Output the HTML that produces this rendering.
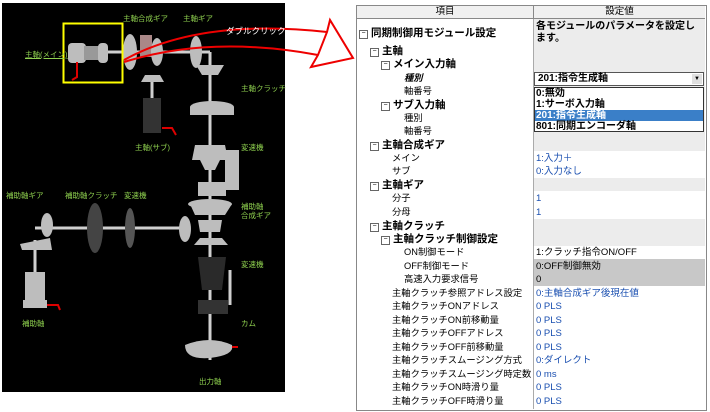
<!DOCTYPE html>
<html><head><meta charset="utf-8"><style>
body{margin:0;width:710px;height:412px;background:#fff;position:relative;overflow:hidden;font-family:"Liberation Sans","Noto Sans CJK JP",sans-serif}
.t{position:absolute;white-space:nowrap;line-height:13px}
.g{position:absolute;color:#8fd14f;font-size:7.5px;white-space:nowrap;line-height:9px}
.l{font-size:9.3px;color:#000}
.b{font-weight:bold;font-size:10.5px}
.v{font-size:9.5px;color:#1a4fb0}
.bx{display:inline-block;width:7px;height:7px;border:1px solid #666;font-size:7px;line-height:6px;text-align:center;font-weight:normal;vertical-align:1px;margin-right:3px}
</style></head><body>
<div style="position:absolute;left:2px;top:3px;width:283px;height:389px;background:#000"></div>
<svg style="position:absolute;left:0;top:0" width="710" height="412">
<g stroke="#cfcfcf" stroke-width="3" fill="none">
<line x1="100" y1="52" x2="210" y2="52"/>
<line x1="210" y1="52" x2="210" y2="360"/>
<line x1="152" y1="75" x2="152" y2="125"/>
<line x1="35" y1="228" x2="190" y2="228"/>
<line x1="35" y1="240" x2="35" y2="300"/>
<line x1="230" y1="150" x2="230" y2="190"/>
<line x1="230" y1="270" x2="230" y2="305"/>
</g>
<g fill="#bdbdbd">
<rect x="68" y="43" width="18" height="20" rx="4"/><rect x="84" y="46" width="16" height="14" fill="#999"/><rect x="98" y="43" width="10" height="20" rx="4"/>
<ellipse cx="130" cy="52" rx="7" ry="18"/><rect x="140" y="35" width="12" height="22" fill="#a88"/><ellipse cx="157" cy="52" rx="6" ry="14"/>
<ellipse cx="196" cy="52" rx="6" ry="16"/><polygon points="196,65 224,65 218,75 202,75"/>
<polygon points="145,75 160,75 164,82 141,82"/>
<rect x="143" y="98" width="18" height="35" fill="#333"/>
<ellipse cx="212" cy="107" rx="22" ry="6"/><rect x="190" y="107" width="44" height="8"/>
<polygon points="195,145 225,145 228,160 192,160"/><polygon points="200,160 220,160 215,170 205,170"/>
<rect x="225" y="150" width="14" height="40"/>
<rect x="198" y="182" width="28" height="14"/>
<ellipse cx="210" cy="204" rx="22" ry="5"/><polygon points="190,204 232,204 225,215 195,215"/>
<polygon points="198,220 222,220 220,232 200,232"/><polygon points="200,238 222,238 228,245 194,245"/>
<ellipse cx="47" cy="225" rx="6" ry="12"/><polygon points="20,244 50,238 52,250 22,250"/>
<rect x="25" y="272" width="20" height="34"/><rect x="23" y="300" width="24" height="8"/>
<ellipse cx="95" cy="228" rx="8" ry="25" fill="#444"/>
<ellipse cx="130" cy="228" rx="5" ry="20" fill="#555"/>
<ellipse cx="185" cy="229" rx="6" ry="13"/>
<polygon points="198,257 226,257 222,290 202,290" fill="#2a2a2a"/>
<rect x="198" y="300" width="30" height="14" fill="#333"/>
<path d="M185,345 Q210,335 232,345 Q235,355 210,358 Q185,360 185,345Z"/>
</g>
<g stroke="#d00" stroke-width="2" fill="none">
<path d="M77,62 L77,77 L72,80"/><path d="M162,128 L172,128 L176,135"/><path d="M47,305 L58,305 L60,310"/><path d="M232,347 L238,347"/>
</g>
<rect x="63.5" y="23.5" width="59" height="59" fill="none" stroke="#ff0" stroke-width="2"/>
<g stroke="#e00" stroke-width="2" fill="none">
<path d="M124,60 Q200,18 327,32"/><path d="M124,62 Q210,35 318,55"/>
</g>
<polygon points="327,32 330,20 353,58 311,67 318,55" fill="#fff" stroke="#e00" stroke-width="2"/>
</svg>
<div class="g" style="left:25px;top:50px;text-decoration:underline">主軸(メイン)</div>
<div class="g" style="left:123px;top:14px">主軸合成ギア</div>
<div class="g" style="left:183px;top:14px">主軸ギア</div>
<div class="g" style="left:226px;top:27px;color:#fff;font-size:8.5px">ダブルクリック</div>
<div class="g" style="left:241px;top:84px">主軸クラッチ</div>
<div class="g" style="left:135px;top:143px">主軸(サブ)</div>
<div class="g" style="left:241px;top:143px">変速機</div>
<div class="g" style="left:6px;top:191px">補助軸ギア</div>
<div class="g" style="left:65px;top:191px">補助軸クラッチ</div>
<div class="g" style="left:124px;top:191px">変速機</div>
<div class="g" style="left:241px;top:202px">補助軸<br>合成ギア</div>
<div class="g" style="left:241px;top:260px">変速機</div>
<div class="g" style="left:22px;top:319px">補助軸</div>
<div class="g" style="left:241px;top:319px">カム</div>
<div class="g" style="left:199px;top:377px">出力軸</div>

<div style="position:absolute;left:356px;top:5px;width:349px;height:404px;border:1px solid #888;background:#fff"></div>
<div style="position:absolute;left:357px;top:6px;width:176px;height:12px;background:#f0f0f0;border-bottom:1px solid #888;border-right:1px solid #888;font-size:9.5px;text-align:center;line-height:12px">項目</div>
<div style="position:absolute;left:534px;top:6px;width:171px;height:12px;background:#f0f0f0;border-bottom:1px solid #888;font-size:9.5px;text-align:center;line-height:12px">設定値</div>
<div style="position:absolute;left:533px;top:19px;width:1px;height:390px;background:#aaa"></div>
<div style="position:absolute;left:534px;top:19px;width:171px;height:119px;background:#ececec"></div>
<div style="position:absolute;left:534px;top:138px;width:171px;height:13px;background:#ececec"></div>
<div style="position:absolute;left:534px;top:178px;width:171px;height:13px;background:#ececec"></div>
<div style="position:absolute;left:534px;top:219px;width:171px;height:27px;background:#ececec"></div>
<div style="position:absolute;left:534px;top:259px;width:171px;height:27px;background:#c8c8c8"></div>
<div class="t" style="left:536px;top:21px;font-size:10px;font-weight:bold;line-height:12px;white-space:normal;width:168px">各モジュールのパラメータを設定します。</div>
<div style="position:absolute;left:534px;top:72px;border:1px solid #555;background:#fff;font-size:10px;font-weight:bold;line-height:12px;padding-left:3px;box-sizing:border-box;width:170px;height:14px">201:指令生成軸<span style="position:absolute;right:1px;top:1px;width:10px;height:10px;background:#e0e0e0;font-size:6px;text-align:center;line-height:10px">▼</span></div>
<div style="position:absolute;left:534px;top:87px;width:170px;height:45px;border:1px solid #333;background:#fff;box-sizing:border-box;font-size:10px;font-weight:bold;line-height:11px">
<div style="padding-left:1px">0:無効</div><div style="padding-left:1px">1:サーボ入力軸</div><div style="padding-left:1px;background:#3a7fc8;color:#fff">201:指令生成軸</div><div style="padding-left:1px">801:同期エンコーダ軸</div></div>
<div class="t l b" style="left:359px;top:27px"><span class="bx">−</span>同期制御用モジュール設定</div>
<div class="t l b" style="left:370px;top:45px"><span class="bx">−</span>主軸</div>
<div class="t l b" style="left:381px;top:58px"><span class="bx">−</span>メイン入力軸</div>
<div class="t l" style="left:404px;top:72px;font-style:italic;font-weight:bold">種別</div>
<div class="t l" style="left:404px;top:85px">軸番号</div>
<div class="t l b" style="left:381px;top:99px"><span class="bx">−</span>サブ入力軸</div>
<div class="t l" style="left:404px;top:112px">種別</div>
<div class="t l" style="left:404px;top:125px">軸番号</div>
<div class="t l b" style="left:370px;top:139px"><span class="bx">−</span>主軸合成ギア</div>
<div class="t l" style="left:392px;top:152px">メイン</div>
<div class="t l" style="left:392px;top:165px">サブ</div>
<div class="t l b" style="left:370px;top:179px"><span class="bx">−</span>主軸ギア</div>
<div class="t l" style="left:392px;top:192px">分子</div>
<div class="t l" style="left:392px;top:206px">分母</div>
<div class="t l b" style="left:370px;top:220px"><span class="bx">−</span>主軸クラッチ</div>
<div class="t l b" style="left:381px;top:233px"><span class="bx">−</span>主軸クラッチ制御設定</div>
<div class="t l" style="left:404px;top:246px">ON制御モード</div>
<div class="t l" style="left:404px;top:260px">OFF制御モード</div>
<div class="t l" style="left:404px;top:273px">高速入力要求信号</div>
<div class="t l" style="left:392px;top:287px">主軸クラッチ参照アドレス設定</div>
<div class="t l" style="left:392px;top:300px">主軸クラッチONアドレス</div>
<div class="t l" style="left:392px;top:314px">主軸クラッチON前移動量</div>
<div class="t l" style="left:392px;top:327px">主軸クラッチOFFアドレス</div>
<div class="t l" style="left:392px;top:341px">主軸クラッチOFF前移動量</div>
<div class="t l" style="left:392px;top:354px">主軸クラッチスムージング方式</div>
<div class="t l" style="left:392px;top:368px">主軸クラッチスムージング時定数</div>
<div class="t l" style="left:392px;top:381px">主軸クラッチON時滑り量</div>
<div class="t l" style="left:392px;top:395px">主軸クラッチOFF時滑り量</div>
<div class="t v" style="left:536px;top:152px">1:入力＋</div>
<div class="t v" style="left:536px;top:165px">0:入力なし</div>
<div class="t v" style="left:536px;top:192px">1</div>
<div class="t v" style="left:536px;top:206px">1</div>
<div class="t v" style="left:536px;top:246px;color:#000">1:クラッチ指令ON/OFF</div>
<div class="t v" style="left:536px;top:260px;color:#000">0:OFF制御無効</div>
<div class="t v" style="left:536px;top:273px;color:#000">0</div>
<div class="t v" style="left:536px;top:287px">0:主軸合成ギア後現在値</div>
<div class="t v" style="left:536px;top:300px">0 PLS</div>
<div class="t v" style="left:536px;top:314px">0 PLS</div>
<div class="t v" style="left:536px;top:327px">0 PLS</div>
<div class="t v" style="left:536px;top:341px">0 PLS</div>
<div class="t v" style="left:536px;top:354px">0:ダイレクト</div>
<div class="t v" style="left:536px;top:368px">0 ms</div>
<div class="t v" style="left:536px;top:381px">0 PLS</div>
<div class="t v" style="left:536px;top:395px">0 PLS</div>
</body></html>
